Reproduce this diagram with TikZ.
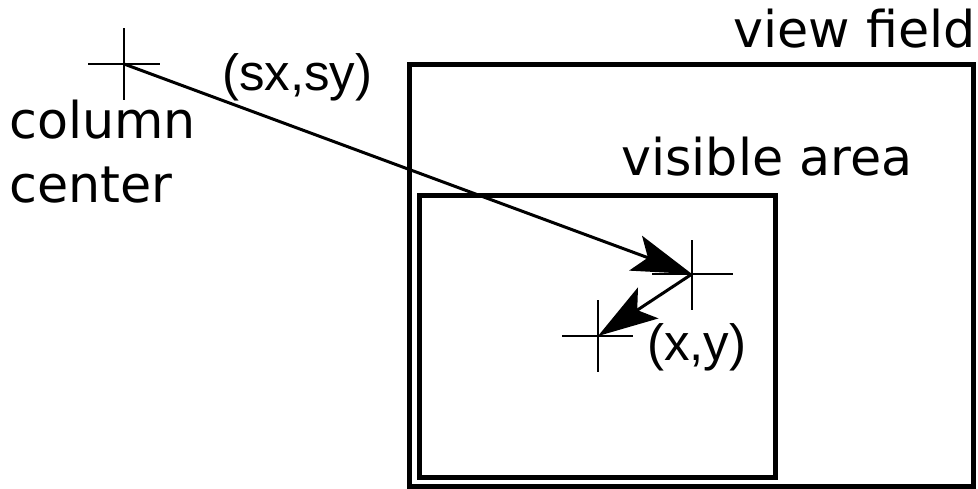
\documentclass[tikz,border=0pt]{standalone}
\usepackage{fontspec}
\setmainfont{DejaVu Sans}
\newfontfamily\coordfont{Liberation Sans}
\usetikzlibrary{arrows.meta}
\tikzset{
  lbl/.style={inner sep=0pt, font=\fontsize{50.7}{60}\selectfont},
  clbl/.style={inner sep=0pt, font=\coordfont\fontsize{51}{60}\selectfont},
  frame/.style={draw=black, line width=5pt},
  crossline/.style={draw=black, line width=2pt},
  arr/.style={draw=black, line width=3pt, -{Stealth[length=60pt,width=37pt,inset=13pt]}}
}
\begin{document}
\begin{tikzpicture}[x=1pt,y=-1pt]
\useasboundingbox (0,0) rectangle (978,488);
% frames
\draw[frame] (409.5,64) rectangle (973,486);
\draw[frame] (419.5,195.5) rectangle (775,477);
% crosses
\coordinate (cc) at (124,64);
\coordinate (sp) at (692,274);
\coordinate (pt) at (598,336);
\draw[crossline] (88,64) -- (160,64) (124,28) -- (124,100);
\draw[crossline] (652,274) -- (733,274) (692,240) -- (692,310);
\draw[crossline] (562,336) -- (633,336) (598,300) -- (598,372);
% arrows
\draw[arr] (cc) -- (sp);
\draw[arr] (sp) -- (pt);
% labels
\node[lbl, anchor=base east] (vf) at (976,47) {view field};
\node[clbl, anchor=base west] (sxsy) at (222,90) {(sx,sy)};
\node[lbl, anchor=base west] (col) at (9,138) {column};
\node[lbl, anchor=base west] (cen) at (9,202) {center};
\node[lbl, anchor=base west] (va) at (621,175) {visible area};
\node[clbl, anchor=base west] (xy) at (647,360) {(x,y)};
\end{tikzpicture}
\end{document}
